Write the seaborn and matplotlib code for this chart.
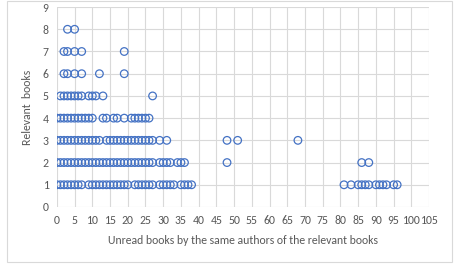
import pandas as pd
import seaborn as sns
import matplotlib.pyplot as plt
from matplotlib.patches import Rectangle

# unread books (x) for each value of relevant books (y)
row_1 = [0, 1, 2, 3, 4, 5, 6, 7, 9, 10, 11, 12, 13, 14, 15, 16, 17, 18, 19, 20,
         22, 23, 24, 25, 26, 27, 29, 30, 31, 32, 33, 35, 36, 37, 38,
         81, 83, 85, 86, 87, 88, 90, 91, 92, 93, 95, 96]
row_2 = [0, 1, 2, 3, 4, 5, 6, 7, 8, 9, 10, 11, 12, 13, 14, 15, 16, 17, 18, 19,
         20, 21, 22, 23, 24, 25, 26, 27, 29, 30, 31, 32, 34, 35, 36, 48, 86, 88]
row_3 = [0, 1, 2, 3, 4, 5, 6, 7, 8, 9, 10, 11, 12, 14, 15, 16, 17, 18, 19, 20,
         21, 22, 23, 24, 25, 26, 27, 29, 31, 48, 51, 68]
row_4 = [0, 1, 2, 3, 4, 5, 6, 7, 8, 9, 10, 13, 14, 16, 17, 19, 21, 22, 23, 24, 25, 26]
row_5 = [1, 2, 3, 4, 5, 6, 7, 9, 10, 11, 13, 27]
row_6 = [2, 3, 5, 7, 12, 19]
row_7 = [2, 3, 5, 7, 19]
row_8 = [3, 5]

rows = {1: row_1, 2: row_2, 3: row_3, 4: row_4, 5: row_5, 6: row_6, 7: row_7, 8: row_8}
df = pd.DataFrame(
    [(x, y) for y, xs in rows.items() for x in xs],
    columns=['unread', 'relevant'],
)

x_ticks = list(range(0, 106, 5))
y_ticks = list(range(0, 10))

sns.set_style('white')
plt.rcParams['font.family'] = ['Carlito', 'Liberation Sans', 'DejaVu Sans']

fig, ax = plt.subplots(figsize=(4.55, 2.72), dpi=100)
fig.subplots_adjust(left=0.125, right=0.943, top=0.974, bottom=0.239)

sns.scatterplot(data=df, x='unread', y='relevant', ax=ax,
                facecolor='none', edgecolor='#4472C4', linewidth=0.9, s=30)

ax.set_xlim(0, 105)
ax.set_ylim(0, 9)
ax.set_xticks(x_ticks)
ax.set_yticks(y_ticks)
ax.grid(True, color='#D9D9D9', linewidth=0.8)
ax.set_axisbelow(True)
for s in ax.spines.values():
    s.set_visible(False)

ax.tick_params(colors='#595959', labelsize=8.5, length=0, pad=6)
ax.set_xlabel('Unread books by the same authors of the relevant books',
              fontsize=8.5, color='#595959', labelpad=6)
ax.set_ylabel('Relevant  books', fontsize=8.5, color='#595959', labelpad=7)

# light chart border
fig.patches.append(Rectangle((7 / 455, 10 / 272), 445 / 455, 261 / 272,
                             transform=fig.transFigure, fill=False,
                             edgecolor='#D9D9D9', linewidth=0.8))

plt.savefig('out.png', dpi=100)
